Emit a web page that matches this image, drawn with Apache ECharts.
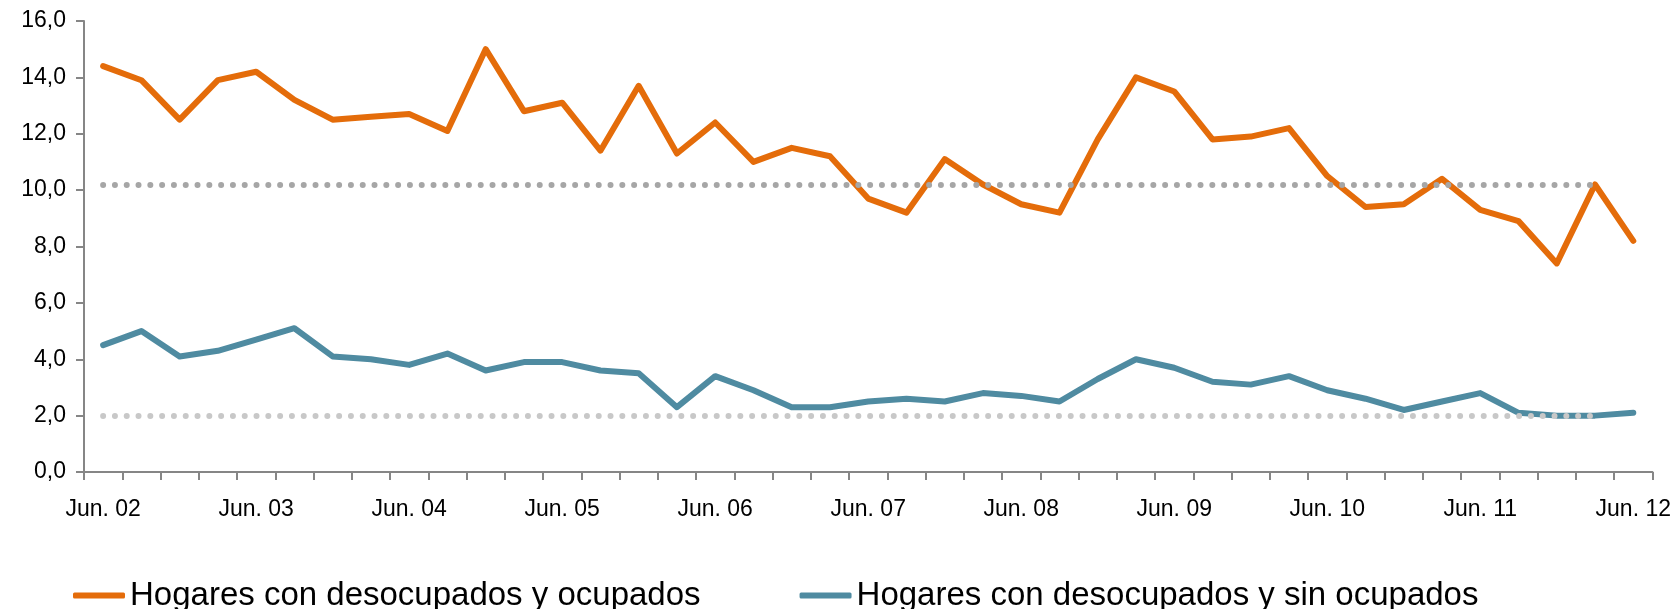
<!DOCTYPE html>
<html>
<head>
<meta charset="utf-8">
<script src="https://cdn.jsdelivr.net/npm/echarts@6/dist/echarts.min.js"></script>
<style>
  html, body { margin: 0; padding: 0; background: #fff; }
  #chart { width: 1674px; height: 609px; }
</style>
</head>
<body>
<div id="chart"></div>
<script>
// trimestres jun. 2002 - jun. 2012
const categorias = [
  'Jun. 02', 'Sep. 02', 'Dic. 02', 'Mar. 03',
  'Jun. 03', 'Sep. 03', 'Dic. 03', 'Mar. 04',
  'Jun. 04', 'Sep. 04', 'Dic. 04', 'Mar. 05',
  'Jun. 05', 'Sep. 05', 'Dic. 05', 'Mar. 06',
  'Jun. 06', 'Sep. 06', 'Dic. 06', 'Mar. 07',
  'Jun. 07', 'Sep. 07', 'Dic. 07', 'Mar. 08',
  'Jun. 08', 'Sep. 08', 'Dic. 08', 'Mar. 09',
  'Jun. 09', 'Sep. 09', 'Dic. 09', 'Mar. 10',
  'Jun. 10', 'Sep. 10', 'Dic. 10', 'Mar. 11',
  'Jun. 11', 'Sep. 11', 'Dic. 11', 'Mar. 12',
  'Jun. 12'
]

const conOcupados = [
  14.4, 13.9, 12.5, 13.9, 14.2, 13.2, 12.5, 12.6, 12.7, 12.1,
  15.0, 12.8, 13.1, 11.4, 13.7, 11.3, 12.4, 11.0, 11.5, 11.2,
  9.7, 9.2, 11.1, 10.2, 9.5, 9.2, 11.8, 14.0, 13.5, 11.8,
  11.9, 12.2, 10.5, 9.4, 9.5, 10.4, 9.3, 8.9, 7.4, 10.2,
  8.2
]

const sinOcupados = [
  4.5, 5.0, 4.1, 4.3, 4.7, 5.1, 4.1, 4.0, 3.8, 4.2,
  3.6, 3.9, 3.9, 3.6, 3.5, 2.3, 3.4, 2.9, 2.3, 2.3,
  2.5, 2.6, 2.5, 2.8, 2.7, 2.5, 3.3, 4.0, 3.7, 3.2,
  3.1, 3.4, 2.9, 2.6, 2.2, 2.5, 2.8, 2.1, 2.0, 2.0,
  2.1
]

// promedios (lineas punteadas), de Jun. 02 a Mar. 12
const promedioConOcupados = 10.2
const promedioSinOcupados = 2.0
const promedioDesde = 'Jun. 02'
const promedioHasta = 'Mar. 12'

const yTicks = { min: 0, max: 16, interval: 2 }

const FONT = '"Liberation Sans", Arial, sans-serif'

const chart = echarts.init(document.getElementById('chart'))

function dotted(color) {
  return {
    color,
    width: 6,
    type: [0, 11.8],
    cap: 'round',
  }
}

function promedioLine(value, color) {
  return {
    silent: true,
    symbol: 'none',
    label: { show: false },
    emphasis: { disabled: true },
    animation: false,
    lineStyle: dotted(color),
    data: [[
      { coord: [promedioDesde, value] },
      { coord: [promedioHasta, value] },
    ]],
  }
}

const option = {
  animation: false,
  grid: {
    left: 84,
    right: 21,
    top: 21,
    bottom: 137,
    containLabel: false,
  },
  legend: {
    left: 68,
    top: 574,
    icon: 'roundRect',
    itemWidth: 52,
    itemHeight: 6,
    itemGap: 99,
    textStyle: {
      fontFamily: FONT,
      fontSize: 33,
      color: '#000',
    },
    data: ['Hogares con desocupados y ocupados', 'Hogares con desocupados y sin ocupados'],
  },
  xAxis: {
    type: 'category',
    data: categorias,
    boundaryGap: true,
    axisLine: { lineStyle: { color: '#868686', width: 2 } },
    axisTick: {
      show: true,
      interval: 0,
      length: 8,
      lineStyle: { color: '#868686', width: 2 },
    },
    axisLabel: {
      interval: 3,
      margin: 26,
      color: '#000',
      fontFamily: FONT,
      fontSize: 23,
    },
  },
  yAxis: {
    type: 'value',
    min: yTicks.min,
    max: yTicks.max,
    interval: yTicks.interval,
    axisLine: { show: true, lineStyle: { color: '#868686', width: 2 } },
    axisTick: {
      show: true,
      length: 8,
      lineStyle: { color: '#868686', width: 2 },
    },
    splitLine: { show: false },
    axisLabel: {
      margin: 18,
      color: '#000',
      fontFamily: FONT,
      fontSize: 23,
      formatter: (v) => v.toFixed(1).replace('.', ','),
    },
  },
  series: [
    {
      name: 'Hogares con desocupados y ocupados',
      type: 'line',
      data: conOcupados,
      symbol: 'none',
      color: '#E46C0A',
      lineStyle: { color: '#E46C0A', width: 6, cap: 'round', join: 'round' },
      markLine: promedioLine(promedioConOcupados, '#A6A6A6'),
    },
    {
      name: 'Hogares con desocupados y sin ocupados',
      type: 'line',
      data: sinOcupados,
      symbol: 'none',
      color: '#4F8BA1',
      lineStyle: { color: '#4F8BA1', width: 6, cap: 'round', join: 'round' },
      markLine: promedioLine(promedioSinOcupados, '#C8C8C8'),
    },
  ],
}

chart.setOption(option)
</script>
</body>
</html>
